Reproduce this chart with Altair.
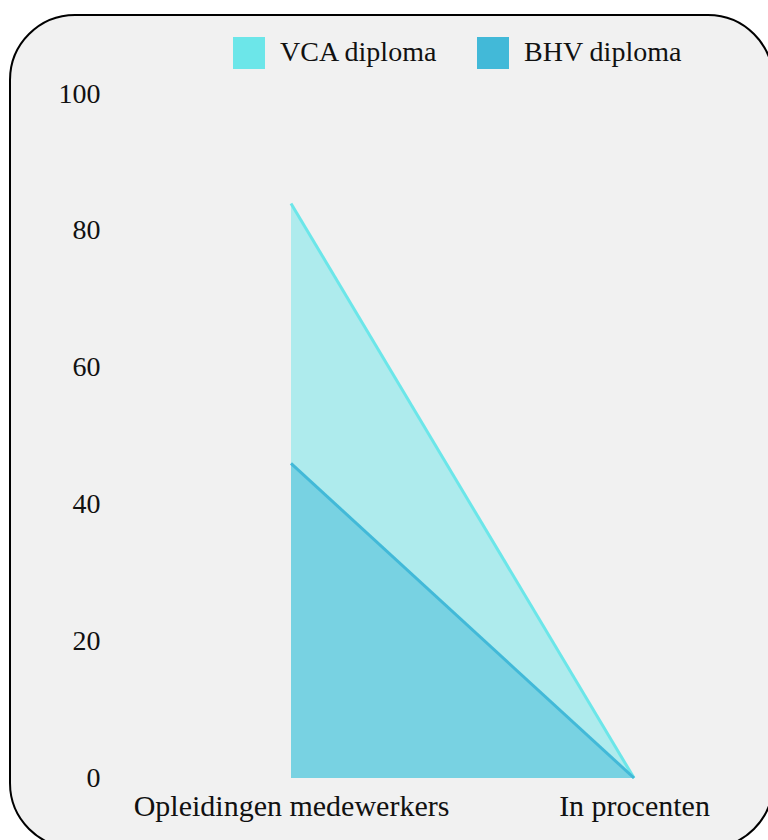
import altair as alt
import pandas as pd

# Categories on the x axis and the two series (percent of staff)
categories = ["Opleidingen medewerkers", "In procenten"]
series_names = ["VCA diploma", "BHV diploma"]
vca_values = [84, 0]
bhv_values = [46, 0]
series_colors = ["#6ce6e9", "#42b9d8"]
y_ticks = [0, 20, 40, 60, 80, 100]

rows = []
for name, values in zip(series_names, [vca_values, bhv_values]):
    for cat, val in zip(categories, values):
        rows.append({"categorie": cat, "reeks": name, "waarde": val})
df = pd.DataFrame(rows)

FONT = "Liberation Serif"
W, H = 650, 684

x_enc = alt.X(
    "categorie:N",
    sort=categories,
    scale=alt.Scale(type="point", range=[181, 524], padding=0),
    axis=alt.Axis(
        title=None, labelAngle=0, domain=False, ticks=False, grid=False,
        labelFont=FONT, labelFontSize=30, labelColor="#111111",
        labelPadding=13, labelBaseline="top", labelLimit=0,
        labelOverlap=False, zindex=1,
    ),
)
y_enc = alt.Y(
    "waarde:Q",
    scale=alt.Scale(domain=[0, 100], nice=False),
    axis=alt.Axis(
        title=None, values=y_ticks, domain=False, ticks=False, grid=False,
        labelFont=FONT, labelFontSize=28, labelColor="#111111",
        labelPadding=10, zindex=1,
    ),
)
color_enc = alt.Color(
    "reeks:N",
    scale=alt.Scale(domain=series_names, range=series_colors),
    legend=alt.Legend(
        title=None, orient="none", direction="horizontal",
        legendX=123, legendY=-57,
        symbolType="square", symbolSize=1024, symbolOpacity=1,
        symbolStrokeWidth=0, labelFont=FONT, labelFontSize=28,
        labelColor="#111111", labelOffset=15, columnPadding=39,
        zindex=1,
    ),
)

# Rounded card behind everything
frame = alt.Chart(pd.DataFrame({"k": [0]})).mark_rect(
    fill="#f1f1f1", stroke="#000000", strokeWidth=2, cornerRadius=65
).encode(
    x=alt.value(-100), x2=alt.value(663),
    y=alt.value(-79), y2=alt.value(754),
)

base = alt.Chart(df)

vca_area = base.transform_filter(alt.datum.reeks == "VCA diploma").mark_area(
    opacity=0.5, interpolate="linear"
).encode(x=x_enc, y=y_enc, color=color_enc)
vca_line = base.transform_filter(alt.datum.reeks == "VCA diploma").mark_line(
    strokeWidth=3
).encode(x=x_enc, y=y_enc, color=color_enc)
bhv_area = base.transform_filter(alt.datum.reeks == "BHV diploma").mark_area(
    opacity=0.5, interpolate="linear"
).encode(x=x_enc, y=y_enc, color=color_enc)
bhv_line = base.transform_filter(alt.datum.reeks == "BHV diploma").mark_line(
    strokeWidth=3
).encode(x=x_enc, y=y_enc, color=color_enc)

chart = alt.layer(
    frame, vca_area, bhv_area, vca_line, bhv_line
).properties(
    width=W, height=H,
    autosize=alt.AutoSizeParams(type="none"),
    padding={"left": 110, "top": 94, "right": 8, "bottom": 62},
    background="#ffffff",
).configure_view(stroke=None, fill=None)

chart.save("out.html", embed_options={"renderer": "svg", "actions": False})
